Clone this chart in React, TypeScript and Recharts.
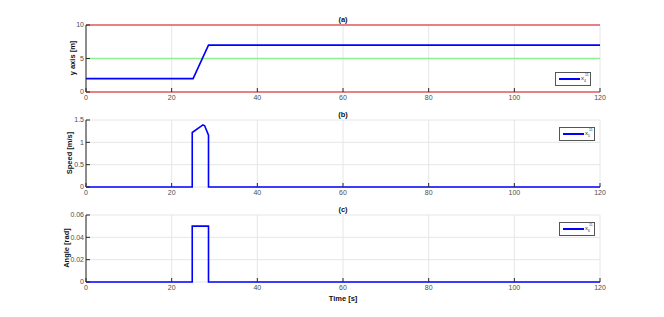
import React from 'react';
import { LineChart, Line, XAxis, YAxis, CartesianGrid } from 'recharts';

// time axis
const timeTicks = [0, 20, 40, 60, 80, 100, 120];

// (a) y position
const yPosTicks = [0, 5, 10];
const yPosBlue = [
  { t: 0, v: 2 },
  { t: 25, v: 2 },
  { t: 28.6, v: 7 },
  { t: 120, v: 7 },
];
const yPosGreen = [
  { t: 0, v: 5 },
  { t: 120, v: 5 },
];
const yPosRedLow = [
  { t: 0, v: 0 },
  { t: 120, v: 0 },
];
const yPosRedHigh = [
  { t: 0, v: 10 },
  { t: 120, v: 10 },
];

// (b) speed
const speedTicks = [0, 0.5, 1, 1.5];
const speedData = [
  { t: 0, v: 0 },
  { t: 24.8, v: 0 },
  { t: 24.8, v: 1.22 },
  { t: 27.3, v: 1.39 },
  { t: 27.7, v: 1.37 },
  { t: 28.6, v: 1.16 },
  { t: 28.6, v: 0 },
  { t: 120, v: 0 },
];

// (c) angle
const angleTicks = [0, 0.02, 0.04, 0.06];
const angleData = [
  { t: 0, v: 0 },
  { t: 24.8, v: 0 },
  { t: 24.8, v: 0.05 },
  { t: 28.6, v: 0.05 },
  { t: 28.6, v: 0 },
  { t: 120, v: 0 },
];

const FONT = 'Arial, "Liberation Sans", Helvetica, sans-serif';
const AXIS = '#262626';
const GRID = '#e6e6e6';
const BLUE = '#0000ff';

const tickStyle = { fill: '#4d4d4d', fontSize: 7, fontFamily: FONT };

function Panel({
  top,
  height,
  marginTop,
  ticks,
  domain,
  children,
}: {
  top: number;
  height: number;
  marginTop: number;
  ticks: number[];
  domain: [number, number];
  children: React.ReactNode;
}) {
  return (
    <div style={{ position: 'absolute', left: 0, top }}>
      <LineChart
        width={664}
        height={height}
        margin={{ top: marginTop, right: 64, left: 0, bottom: 0 }}
      >
        <CartesianGrid stroke={GRID} strokeWidth={1} />
        <XAxis
          dataKey="t"
          type="number"
          domain={[0, 120]}
          ticks={timeTicks}
          allowDuplicatedCategory={false}
          height={20}
          axisLine={false}
          tickLine={{ stroke: AXIS }}
          tick={tickStyle}
          tickSize={-4}
          tickMargin={7}
        />
        <YAxis
          dataKey="v"
          type="number"
          domain={domain}
          ticks={ticks}
          width={86}
          stroke={AXIS}
          tick={tickStyle}
          tickSize={-4}
          tickMargin={6}
          interval={0}
        />
        {children}
      </LineChart>
    </div>
  );
}

function Title({ text, x, y }: { text: string; x: number; y: number }) {
  return (
    <div
      style={{
        position: 'absolute',
        left: x,
        top: y,
        transform: 'translate(-50%, -50%)',
        fontFamily: FONT,
        fontSize: 7.5,
        fontWeight: 'bold',
        color: '#111',
        whiteSpace: 'nowrap',
      }}
    >
      {text}
    </div>
  );
}

function YLabel({ text, x, y }: { text: string; x: number; y: number }) {
  return (
    <div
      style={{
        position: 'absolute',
        left: x,
        top: y,
        transform: 'translate(-50%, -50%) rotate(-90deg)',
        fontFamily: FONT,
        fontSize: 7.5,
        fontWeight: 'bold',
        color: '#111',
        whiteSpace: 'nowrap',
      }}
    >
      {text}
    </div>
  );
}

function LegendBox({ x, y, sub }: { x: number; y: number; sub: string }) {
  return (
    <div
      style={{
        position: 'absolute',
        left: x,
        top: y,
        width: 34,
        height: 12,
        border: '1px solid #555',
        background: '#fff',
        fontFamily: FONT,
      }}
    >
      <div
        style={{
          position: 'absolute',
          left: 3,
          top: 5,
          width: 21,
          height: 2,
          background: BLUE,
        }}
      />
      <div style={{ position: 'absolute', left: 25, top: 2, fontSize: 6, color: '#333', lineHeight: 1 }}>
        x
        <span style={{ position: 'relative', fontSize: 3.5, top: 2 }}>{sub}</span>
        <span style={{ position: 'absolute', fontSize: 3.5, left: 4, top: -1 }}>11</span>
      </div>
    </div>
  );
}

export default function App() {
  return (
    <div
      style={{
        position: 'absolute',
        left: 0,
        top: 0,
        width: 664,
        height: 317,
        background: '#fff',
        overflow: 'hidden',
      }}
    >
      <Panel top={0} height={112} marginTop={25} ticks={yPosTicks} domain={[0, 10]}>
        <Line data={yPosGreen} dataKey="v" stroke="#8ff08f" strokeWidth={1.5} dot={false} isAnimationActive={false} />
        <Line data={yPosRedLow} dataKey="v" stroke="#dd1111" strokeWidth={1.2} dot={false} isAnimationActive={false} />
        <Line data={yPosRedHigh} dataKey="v" stroke="#dd1111" strokeWidth={1.2} dot={false} isAnimationActive={false} />
        <Line data={yPosBlue} dataKey="v" stroke={BLUE} strokeWidth={1.6} dot={false} isAnimationActive={false} />
      </Panel>
      <Panel top={100} height={107} marginTop={20} ticks={speedTicks} domain={[0, 1.5]}>
        <Line data={speedData} dataKey="v" stroke={BLUE} strokeWidth={1.6} dot={false} isAnimationActive={false} />
      </Panel>
      <Panel top={195} height={107} marginTop={20} ticks={angleTicks} domain={[0, 0.06]}>
        <Line data={angleData} dataKey="v" stroke={BLUE} strokeWidth={1.6} dot={false} isAnimationActive={false} />
      </Panel>

      <Title text="(a)" x={343} y={19} />
      <Title text="(b)" x={343} y={114} />
      <Title text="(c)" x={343} y={209} />
      <Title text="Time [s]" x={343} y={298} />

      <YLabel text="y axis [m]" x={72} y={58} />
      <YLabel text="Speed [m/s]" x={69} y={153} />
      <YLabel text="Angle [rad]" x={66} y={248} />

      <LegendBox x={555} y={72} sub="4" />
      <LegendBox x={559} y={127} sub="5" />
      <LegendBox x={559} y={222} sub="6" />
    </div>
  );
}
